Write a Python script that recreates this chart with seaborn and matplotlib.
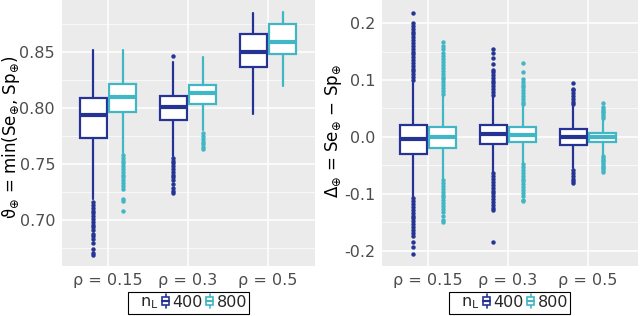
import matplotlib
matplotlib.use("Agg")
import matplotlib.pyplot as plt
import seaborn as sns
from matplotlib.ticker import MultipleLocator, FixedLocator
from matplotlib.legend_handler import HandlerBase
from matplotlib.patches import Rectangle, Patch
from matplotlib.lines import Line2D

# ---------------- data ----------------
rho_labels = ["ρ = 0.15", "ρ = 0.3", "ρ = 0.5"]
n_levels = ["400", "800"]

# Left panel: theta = min(Se, Sp)
theta_400_lo = [0.719, 0.757, 0.7944]
theta_400_q1 = [0.773, 0.7893, 0.8363]
theta_400_med = [0.7935, 0.8012, 0.8497]
theta_400_q3 = [0.809, 0.811, 0.8658]
theta_400_hi = [0.852, 0.8413, 0.8846]
theta_400_out = [
    [0.716, 0.7135, 0.711, 0.7085, 0.706, 0.7035, 0.701, 0.6985, 0.696, 0.6935,
     0.691, 0.688, 0.6857, 0.6833, 0.6792, 0.6738, 0.6708, 0.6688],
    [0.8464, 0.7555, 0.753, 0.7505, 0.748, 0.7455, 0.743, 0.7405, 0.738, 0.7355,
     0.732, 0.729, 0.7255, 0.7238],
    [],
]
theta_800_lo = [0.760, 0.780, 0.8199]
theta_800_q1 = [0.7967, 0.8038, 0.8479]
theta_800_med = [0.810, 0.8131, 0.8587]
theta_800_q3 = [0.8217, 0.8203, 0.8747]
theta_800_hi = [0.852, 0.8455, 0.8855]
theta_800_out = [
    [0.758, 0.7555, 0.753, 0.7505, 0.748, 0.7455, 0.743, 0.7405, 0.738, 0.7355,
     0.733, 0.7305, 0.728, 0.7187, 0.717, 0.7077],
    [0.7775, 0.775, 0.7725, 0.770, 0.7675, 0.7649, 0.7635],
    [],
]

# Right panel: Delta = Se - Sp
delta_400_lo = [-0.105, -0.061, -0.055]
delta_400_q1 = [-0.0293, -0.0117, -0.014]
delta_400_med = [-0.003, 0.0047, 0.0006]
delta_400_q3 = [0.0216, 0.0216, 0.0135]
delta_400_hi = [0.097, 0.071, 0.054]
delta_400_out = [
    [0.100, 0.105, 0.110, 0.115, 0.120, 0.125, 0.130, 0.135, 0.140, 0.145, 0.150,
     0.155, 0.160, 0.165, 0.170, 0.175, 0.180, 0.185, 0.190, 0.195, 0.200, 0.218,
     -0.108, -0.113, -0.118, -0.123, -0.128, -0.133, -0.138, -0.143, -0.148,
     -0.153, -0.158, -0.163, -0.168, -0.173, -0.184, -0.194, -0.206],
    [0.074, 0.079, 0.084, 0.089, 0.094, 0.099, 0.104, 0.109, 0.114, 0.1175,
     0.1275, 0.138, 0.147, 0.154,
     -0.064, -0.069, -0.074, -0.079, -0.084, -0.089, -0.094, -0.099, -0.104,
     -0.109, -0.114, -0.119, -0.124, -0.129, -0.184],
    [0.057, 0.062, 0.067, 0.072, 0.077, 0.082, 0.085, 0.095,
     -0.058, -0.063, -0.068, -0.073, -0.078, -0.081],
]
delta_800_lo = [-0.073, -0.045, -0.031]
delta_800_q1 = [-0.0188, -0.0085, -0.008]
delta_800_med = [0.000, 0.0038, 0.0005]
delta_800_q3 = [0.018, 0.0175, 0.0075]
delta_800_hi = [0.073, 0.054, 0.031]
delta_800_out = [
    [0.076, 0.081, 0.086, 0.091, 0.096, 0.101, 0.106, 0.111, 0.116, 0.121, 0.126,
     0.131, 0.136, 0.142, 0.148, 0.155, 0.160, 0.167,
     -0.076, -0.081, -0.086, -0.091, -0.096, -0.101, -0.106, -0.111, -0.116,
     -0.121, -0.126, -0.131, -0.139, -0.145, -0.150],
    [0.057, 0.062, 0.067, 0.072, 0.077, 0.082, 0.087, 0.092, 0.097, 0.102,
     0.1146, 0.129,
     -0.048, -0.053, -0.058, -0.063, -0.068, -0.073, -0.078, -0.083, -0.088,
     -0.093, -0.098, -0.104, -0.110, -0.113],
    [0.034, 0.037, 0.040, 0.043, 0.046, 0.049, 0.052, 0.059,
     -0.034, -0.037, -0.040, -0.043, -0.046, -0.049, -0.052, -0.055, -0.058, -0.061],
]

theta_ticks = [0.70, 0.75, 0.80, 0.85]
theta_ticklabels = ["0.70", "0.75", "0.80", "0.85"]
delta_ticks = [-0.2, -0.1, 0.0, 0.1, 0.2]
delta_ticklabels = ["-0.2", "-0.1", "0.0", "0.1", "0.2"]

# ---------------- style ----------------
sns.set_theme(style="darkgrid", rc={
    "axes.facecolor": "#EBEBEB",
    "grid.color": "white",
    "axes.edgecolor": "#EBEBEB",
})
plt.rcParams["font.family"] = ["DejaVu Sans"]
plt.rcParams["mathtext.fontset"] = "dejavusans"
palette = sns.color_palette(["#253494", "#41b6c4"])

fig = plt.figure(figsize=(6.4, 3.16), dpi=100)
axL = fig.add_axes([62 / 640, 50 / 316, 253 / 640, 266 / 316])
axR = fig.add_axes([382 / 640, 50 / 316, 256 / 640, 266 / 316])

offsets = [-0.185, 0.185]


def make_stats(lo, q1, med, q3, hi, out):
    return [dict(whislo=lo[i], q1=q1[i], med=med[i], q3=q3[i], whishi=hi[i],
                 fliers=out[i]) for i in range(len(med))]


def draw_panel(ax, groups, ylim, ticks, ticklabels, minor_step, xlim):
    for k, (stats, color) in enumerate(zip(groups, palette)):
        pos = [i + offsets[k] for i in range(len(stats))]
        ax.bxp(stats, positions=pos, widths=0.34, patch_artist=True,
               showcaps=False, manage_ticks=False,
               boxprops=dict(facecolor="white", edgecolor=color, linewidth=1.6),
               medianprops=dict(color=color, linewidth=3.0, solid_capstyle="butt"),
               whiskerprops=dict(color=color, linewidth=1.6),
               flierprops=dict(marker="o", markersize=2.8, markerfacecolor=color,
                               markeredgecolor=color, markeredgewidth=0.3,
                               linestyle="none"))
    ax.set_xlim(*xlim)
    ax.set_ylim(*ylim)
    ax.xaxis.set_major_locator(FixedLocator([0, 1, 2]))
    ax.set_xticklabels(rho_labels)
    ax.yaxis.set_major_locator(FixedLocator(ticks))
    ax.set_yticklabels(ticklabels)
    ax.yaxis.set_minor_locator(MultipleLocator(minor_step))
    ax.grid(True, which="major", color="white", linewidth=1.1)
    ax.grid(True, which="minor", axis="y", color="white", linewidth=0.5)
    ax.set_axisbelow(True)
    ax.tick_params(axis="both", which="major", length=3, width=0.8,
                   color="#333333", labelsize=11.5, labelcolor="#4D4D4D", pad=2)
    ax.tick_params(which="minor", length=0)
    for s in ax.spines.values():
        s.set_visible(False)


theta_groups = [
    make_stats(theta_400_lo, theta_400_q1, theta_400_med, theta_400_q3, theta_400_hi, theta_400_out),
    make_stats(theta_800_lo, theta_800_q1, theta_800_med, theta_800_q3, theta_800_hi, theta_800_out),
]
delta_groups = [
    make_stats(delta_400_lo, delta_400_q1, delta_400_med, delta_400_q3, delta_400_hi, delta_400_out),
    make_stats(delta_800_lo, delta_800_q1, delta_800_med, delta_800_q3, delta_800_hi, delta_800_out),
]

draw_panel(axL, theta_groups, (0.659, 0.8964), theta_ticks, theta_ticklabels, 0.025,
           (-0.575, 2.5875))
draw_panel(axR, delta_groups, (-0.2265, 0.2404), delta_ticks, delta_ticklabels, 0.05,
           (-0.575, 2.625))

fig.text(11 / 640, 0.567, "ϑ$_{\\oplus}$ = min(Se$_{\\oplus}$, Sp$_{\\oplus}$)",
         rotation=90, ha="center", va="center", fontsize=12, color="black")
fig.text(333 / 640, 0.585, "Δ$_{\\oplus}$ = Se$_{\\oplus}$ − Sp$_{\\oplus}$",
         rotation=90, ha="center", va="center", fontsize=12, color="black")


# ---------------- legends ----------------
class BoxGlyph(HandlerBase):
    def create_artists(self, legend, orig_handle, xdescent, ydescent, width,
                       height, fontsize, trans):
        c = orig_handle.get_edgecolor()
        cx = -xdescent + width / 2
        y0 = -ydescent - 0.15 * height
        h = height * 1.25
        bw = 5.0
        arts = [
            Line2D([cx, cx], [y0, y0 + h], color=c, lw=1.2, transform=trans),
            Rectangle((cx - bw / 2, y0 + 0.22 * h), bw, 0.56 * h, facecolor="white",
                      edgecolor=c, lw=1.2, transform=trans),
            Line2D([cx - bw / 2, cx + bw / 2], [y0 + 0.5 * h] * 2, color=c, lw=1.6,
                   transform=trans),
        ]
        return arts


class Blank(HandlerBase):
    def create_artists(self, legend, orig_handle, xdescent, ydescent, width,
                       height, fontsize, trans):
        r = Rectangle((0, 0), 0, 0, visible=False, transform=trans)
        return [r]


for cx in (188.5, 509.5):
    blank = Patch(visible=False)
    h400 = Patch(edgecolor=palette[0])
    h800 = Patch(edgecolor=palette[1])
    leg = fig.legend([blank, h400, h800], [r"$\mathrm{n_L}$", n_levels[0], n_levels[1]],
                     handler_map={blank: Blank(), h400: BoxGlyph(), h800: BoxGlyph()},
                     ncol=3, loc="center", bbox_to_anchor=(cx / 640, 1 - 303 / 316),
                     bbox_transform=fig.transFigure, frameon=True, fancybox=False,
                     edgecolor="black", framealpha=1, borderpad=0.15,
                     handlelength=0.45, handletextpad=0.2, columnspacing=0.2,
                     borderaxespad=0, fontsize=11.5)
    leg.get_frame().set_linewidth(0.8)
    leg.get_frame().set_facecolor("white")

fig.savefig("out.png", dpi=100)
